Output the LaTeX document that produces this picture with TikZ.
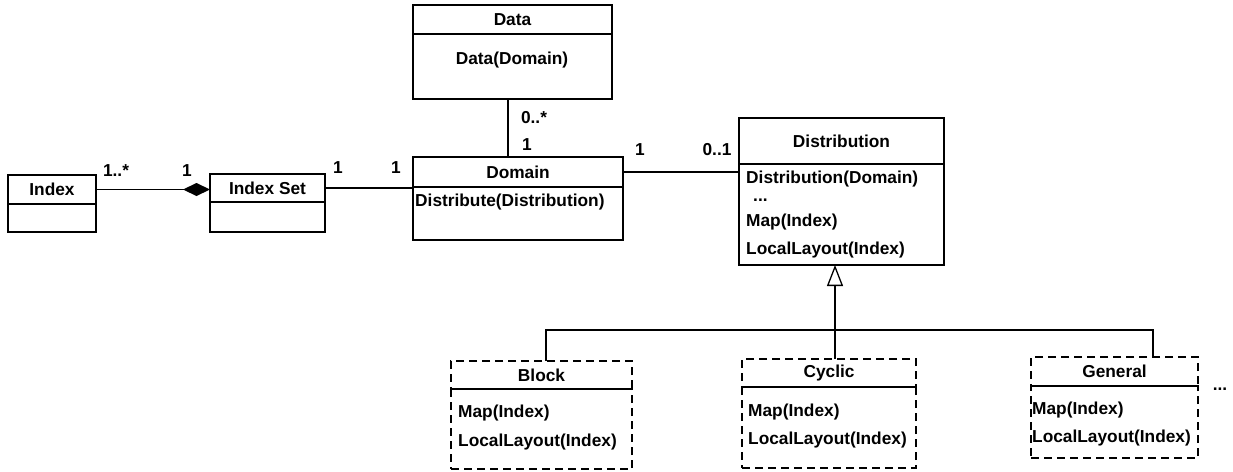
\documentclass[tikz,border=0pt]{standalone}
\usepackage{fontspec}
\setmainfont{Liberation Sans}
\usetikzlibrary{arrows.meta}
\tikzset{
  umlbox/.style={draw, line width=1.3pt, anchor=north west, inner sep=0pt, outer sep=0pt},
  abstractbox/.style={umlbox, dash pattern=on 8pt off 5pt},
  umlline/.style={line width=1.3pt},
  optext/.style={anchor=west, inner sep=0pt},
  multtext/.style={inner sep=0pt}
}
\begin{document}
\begin{tikzpicture}[x=1pt,y=1pt,yscale=-1,
    every node/.append style={font=\fontsize{17.3}{20}\selectfont\bfseries}]
        \useasboundingbox (0,0) rectangle (1233,471);

        %Class: Index
        \node[umlbox, minimum width=88, minimum height=29] (index) at (8,175) {Index};
        \node[umlbox, minimum width=88, minimum height=28] (indexbody) at (index.south west) {};
        %Class: Index Set
        \node[umlbox, minimum width=115, minimum height=28] (indexset) at (210,174) {Index Set};
        \node[umlbox, minimum width=115, minimum height=30] (indexsetbody) at (indexset.south west) {};
        %Class: Data
        \node[umlbox, minimum width=199, minimum height=29] (data) at (413,5) {Data};
        \node[umlbox, minimum width=199, minimum height=65] (databody) at (data.south west) {};
        %Class: Domain
        \node[umlbox, minimum width=210, minimum height=30] (domain) at (413,157) {Domain};
        \node[umlbox, minimum width=210, minimum height=53] (domainbody) at (domain.south west) {};
        %Class: Distribution
        \node[umlbox, minimum width=205, minimum height=46] (distribution) at (739,118) {Distribution};
        \node[umlbox, minimum width=205, minimum height=101] (distributionbody) at (distribution.south west) {};
        %Class: Block (dashed)
        \node[abstractbox, minimum width=181, minimum height=28] (block) at (451,361) {Block};
        \node[abstractbox, minimum width=181, minimum height=80] (blockbody) at (block.south west) {};
        \draw[umlline] (block.south west) -- (block.south east);
        %Class: Cyclic (dashed)
        \node[abstractbox, minimum width=174, minimum height=28] (cyclic) at (742,359) {Cyclic};
        \node[abstractbox, minimum width=174, minimum height=81] (cyclicbody) at (cyclic.south west) {};
        \draw[umlline] (cyclic.south west) -- (cyclic.south east);
        %Class: General (dashed)
        \node[abstractbox, minimum width=167, minimum height=29] (general) at (1031,357) {General};
        \node[abstractbox, minimum width=167, minimum height=72] (generalbody) at (general.south west) {};
        \draw[umlline] (general.south west) -- (general.south east);

        % Operations
        \node (dataop) at (512,60) {Data(Domain)};
        \node[optext] (domainop) at (415,202) {Distribute(Distribution)};
        \node[optext] (distop1) at (746,179) {Distribution(Domain)};
        \node[optext] (distdots) at (753,200) {...};
        \node[optext] (distop2) at (746,222) {Map(Index)};
        \node[optext] (distop3) at (746,250) {LocalLayout(Index)};
        \node[optext] (blockop1) at (458,413) {Map(Index)};
        \node[optext] (blockop2) at (458,442) {LocalLayout(Index)};
        \node[optext] (cyclicop1) at (748,412) {Map(Index)};
        \node[optext] (cyclicop2) at (748,440) {LocalLayout(Index)};
        \node[optext] (generalop1) at (1032,410) {Map(Index)};
        \node[optext] (generalop2) at (1032,438) {LocalLayout(Index)};
        \node[multtext] (more) at (1220,389) {...};

        % Multiplicities
        \node[multtext] (m1) at (116,171) {1..*};
        \node[multtext] (m2) at (187,171) {1};
        \node[multtext] (m3) at (338,168) {1};
        \node[multtext] (m4) at (396,168) {1};
        \node[multtext] (m5) at (534,118) {0..*};
        \node[multtext] (m6) at (527,145) {1};
        \node[multtext] (m7) at (640,150) {1};
        \node[multtext] (m8) at (717,150) {0..1};

        % Associations
        \draw[umlline, -{Diamond[length=27pt,width=13pt]}] (index.east) -- (index.east -| indexset.west);
        \draw[umlline] (indexset.east) -- (indexset.east -| domain.west);
        \coordinate (datafoot) at ([xshift=-4.5pt]databody.south);
        \draw[umlline] (datafoot) -- (datafoot |- domain.north);
        \draw[umlline] (domain.east) -- (domain.east -| distribution.west);

        % Generalization
        \coordinate (blocktop) at ([xshift=95pt]block.north west);
        \coordinate (cyclictop) at ([xshift=93pt]cyclic.north west);
        \coordinate (generaltop) at ([xshift=122pt]general.north west);
        \coordinate (bar) at (835,330);
        \draw[umlline] (blocktop) |- (bar) -| (generaltop);
        \draw[umlline, -{Triangle[open,length=21pt,width=16pt]}] (cyclictop) -- (cyclictop |- distributionbody.south);
\end{tikzpicture}
\end{document}
